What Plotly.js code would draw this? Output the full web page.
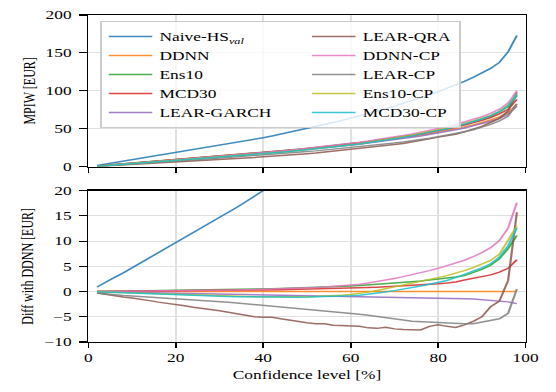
<!DOCTYPE html>
<html>
<head>
<meta charset="utf-8">
<script src="https://cdn.plot.ly/plotly-3.0.1.min.js"></script>
<style>
html,body{margin:0;padding:0;background:#fff;}
#wrap{width:556px;height:392px;overflow:hidden;}
#chart{width:384px;height:392px;transform:scaleX(1.448);transform-origin:0 0;}
</style>
</head>
<body>
<div id="wrap"><div id="chart"></div></div>
<script>
// Confidence levels [%]
const levels = [2,4,6,8,10,12,14,16,18,20,22,24,26,28,30,32,34,36,38,40,42,44,46,48,50,52,54,56,58,60,62,64,66,68,70,72,74,76,78,80,82,84,86,88,90,92,94,96,98];

// MPIW of the DDNN reference model [EUR]
const mpiwDDNN = [0.8,1.7,2.6,3.5,4.4,5.3,6.2,7.1,8.0,8.9,9.8,10.7,11.6,12.5,13.4,14.3,15.3,16.2,17.2,18.2,19.2,20.2,21.2,22.3,23.4,24.5,25.7,26.9,28.1,29.4,30.7,32.1,33.5,35.0,36.6,38.2,39.9,41.7,43.6,45.6,47.7,50.0,52.5,55.2,58.2,61.6,65.7,71.2,82.5];

// Difference of each model's MPIW with DDNN [EUR]
const diffNaive = [0.9,1.9,2.8,3.7,4.7,5.6,6.6,7.6,8.6,9.6,10.6,11.6,12.6,13.6,14.6,15.7,16.7,17.8,18.9,20.0,21.4,22.8,24.2,25.6,27.0,28.5,29.9,31.4,33.0,34.6,36.3,38.0,39.7,41.5,43.3,45.2,47.1,49.1,51.2,53.4,55.6,57.8,60.1,62.5,65.1,68.0,71.8,80.3,90.5];
const diffDDNN = [0,0,0,0,0,0,0,0,0,0,0,0,0,0,0,0,0,0,0,0,0,0,0,0,0,0,0,0,0,0,0,0,0,0,0,0,0,0,0,0,0,0,0,0,0,0,0,0,0];
const diffEns10 = [0.02,0.04,0.06,0.09,0.11,0.14,0.16,0.19,0.22,0.25,0.27,0.3,0.32,0.35,0.38,0.4,0.43,0.46,0.49,0.52,0.56,0.6,0.65,0.7,0.75,0.81,0.88,0.95,1.03,1.12,1.21,1.31,1.42,1.54,1.67,1.8,1.95,2.1,2.27,2.45,2.65,2.88,3.15,3.7,4.4,5.2,6.5,8.5,11.1];
const diffMCD30 = [0.01,0.02,0.03,0.04,0.05,0.06,0.07,0.08,0.09,0.1,0.11,0.13,0.15,0.17,0.19,0.21,0.23,0.25,0.28,0.3,0.33,0.36,0.39,0.42,0.46,0.5,0.54,0.58,0.63,0.68,0.74,0.8,0.87,0.95,1.03,1.12,1.21,1.31,1.42,1.55,1.7,1.9,2.3,2.6,2.95,3.3,3.85,4.6,6.3];
const diffLEARGARCH = [-0.02,-0.05,-0.08,-0.11,-0.14,-0.17,-0.2,-0.23,-0.26,-0.29,-0.32,-0.35,-0.38,-0.41,-0.44,-0.47,-0.5,-0.53,-0.56,-0.59,-0.62,-0.65,-0.68,-0.71,-0.74,-0.77,-0.8,-0.83,-0.86,-0.89,-0.92,-0.95,-0.98,-1.01,-1.05,-1.09,-1.13,-1.17,-1.21,-1.26,-1.31,-1.36,-1.42,-1.5,-1.6,-1.72,-1.86,-2.05,-2.4];
const diffLEARQRA = [-0.3,-0.6,-0.9,-1.1,-1.3,-1.5,-1.8,-2.1,-2.3,-2.5,-2.8,-3.1,-3.3,-3.6,-3.8,-4.1,-4.4,-4.7,-5.0,-5.1,-5.1,-5.4,-5.7,-5.9,-6.2,-6.4,-6.4,-6.7,-6.8,-6.9,-6.9,-7.2,-7.3,-7.1,-7.4,-7.5,-7.5,-7.6,-6.9,-6.6,-6.9,-7.1,-6.6,-5.9,-5.0,-3.0,-1.9,2.2,15.7];
const diffDDNNCP = [0.0,0.01,0.02,0.03,0.04,0.05,0.06,0.07,0.08,0.1,0.12,0.14,0.17,0.2,0.23,0.26,0.29,0.33,0.37,0.41,0.45,0.5,0.56,0.62,0.7,0.79,0.89,1.0,1.12,1.25,1.45,1.7,1.95,2.25,2.6,2.95,3.3,3.7,4.15,4.6,5.1,5.6,6.2,6.9,7.7,8.7,10.1,12.6,17.6];
const diffLEARCP = [-0.3,-0.5,-0.65,-0.8,-0.9,-1.0,-1.1,-1.2,-1.3,-1.4,-1.5,-1.62,-1.75,-1.87,-2.0,-2.13,-2.27,-2.42,-2.56,-2.7,-2.85,-3.0,-3.15,-3.3,-3.45,-3.6,-3.75,-3.9,-4.1,-4.3,-4.5,-4.7,-4.9,-5.1,-5.4,-5.65,-5.9,-6.0,-6.05,-6.1,-6.15,-6.25,-6.4,-6.4,-6.1,-5.8,-5.4,-4.3,0.5];
const diffEns10CP = [-0.02,-0.08,-0.15,-0.22,-0.29,-0.36,-0.42,-0.48,-0.54,-0.6,-0.66,-0.71,-0.76,-0.81,-0.86,-0.9,-0.94,-0.98,-1.01,-1.04,-1.06,-1.07,-1.07,-1.06,-1.03,-0.99,-0.93,-0.85,-0.74,-0.6,-0.4,-0.12,0.2,0.55,0.9,1.25,1.6,1.95,2.35,2.75,3.15,3.6,4.15,4.75,5.4,6.15,7.4,10.1,13.0];
const diffMCD30CP = [-0.03,-0.1,-0.18,-0.26,-0.34,-0.42,-0.49,-0.56,-0.63,-0.69,-0.75,-0.8,-0.85,-0.9,-0.94,-0.98,-1.02,-1.05,-1.08,-1.1,-1.12,-1.13,-1.13,-1.12,-1.1,-1.07,-1.03,-0.98,-0.92,-0.85,-0.72,-0.55,-0.33,-0.08,0.18,0.45,0.75,1.08,1.43,1.8,2.2,2.75,3.4,4.0,4.7,5.5,6.8,9.1,12.6];

const seriesNames = ['Naive-HS<sub><i>val</i></sub>','DDNN','Ens10','MCD30','LEAR-GARCH\u00a0\u00a0\u00a0\u00a0\u00a0\u00a0','LEAR-QRA','DDNN-CP','LEAR-CP','Ens10-CP','MCD30-CP'];
const seriesDiffs = [diffNaive,diffDDNN,diffEns10,diffMCD30,diffLEARGARCH,diffLEARQRA,diffDDNNCP,diffLEARCP,diffEns10CP,diffMCD30CP];
const seriesColors = ['#1f77b4','#ff7f0e','#2ca02c','#d62728','#9467bd','#8c564b','#e377c2','#7f7f7f','#bcbd22','#17becf'];

const traces = [];
seriesNames.forEach((name, i) => {
  const diff = seriesDiffs[i];
  const mpiw = mpiwDDNN.map((v, k) => v + diff[k]);
  const rank = i < 5 ? 2 * i + 1 : 2 * (i - 5) + 2;
  traces.push({
    x: levels, y: mpiw, xaxis: 'x', yaxis: 'y', type: 'scatter', mode: 'lines',
    name: name, legendrank: rank, opacity: 0.85,
    line: {color: seriesColors[i], width: 1.5}
  });
  traces.push({
    x: levels, y: diff, xaxis: 'x2', yaxis: 'y2', type: 'scatter', mode: 'lines',
    name: name, showlegend: false, opacity: 0.85,
    line: {color: seriesColors[i], width: 1.5}
  });
});

const FONT = "'Liberation Serif', serif";
const axisCommon = {
  showline: true, mirror: true, linecolor: '#000', linewidth: 1.1,
  ticks: 'outside', ticklen: 5, tickwidth: 1.1, tickcolor: '#000',
  showgrid: true, gridcolor: '#e0e0e0', gridwidth: 1.1, zeroline: false,
  tickfont: {family: FONT, size: 12, color: '#000'}
};

const layout = {
  width: 384, height: 392,
  margin: {l: 61, r: 21, t: 15, b: 50},
  paper_bgcolor: '#fff', plot_bgcolor: '#fff',
  font: {family: FONT, color: '#000'},
  showlegend: true,
  legend: {
    x: 0.027, y: 0.982, xanchor: 'left', yanchor: 'top',
    orientation: 'h',
    bgcolor: 'rgba(255,255,255,0.8)', bordercolor: '#cccccc', borderwidth: 1,
    font: {family: FONT, size: 12, color: '#000'},
    tracegroupgap: 0
  },
  xaxis: Object.assign({}, axisCommon, {
    domain: [0, 1], range: [0, 100], dtick: 20, tick0: 0, anchor: 'y',
    showticklabels: false
  }),
  yaxis: Object.assign({}, axisCommon, {
    domain: [0.536, 1], range: [0, 200], dtick: 50, tick0: 0, anchor: 'x',
    ticklabelstandoff: 3,
    title: {text: 'MPIW [EUR]', font: {family: FONT, size: 12, color: '#000'}, standoff: 4}
  }),
  xaxis2: Object.assign({}, axisCommon, {
    domain: [0, 1], range: [0, 100], dtick: 20, tick0: 0, anchor: 'y2',
    title: {text: 'Confidence level [%]', font: {family: FONT, size: 12, color: '#000'}, standoff: 6}
  }),
  yaxis2: Object.assign({}, axisCommon, {
    domain: [0, 0.463], range: [-10, 20], dtick: 5, tick0: 0, anchor: 'x2',
    ticklabelstandoff: 3,
    title: {text: 'Diff with DDNN [EUR]', font: {family: FONT, size: 12, color: '#000'}, standoff: 4}
  })
};

Plotly.newPlot('chart', traces, layout, {staticPlot: true, displayModeBar: false});
</script>
</body>
</html>
